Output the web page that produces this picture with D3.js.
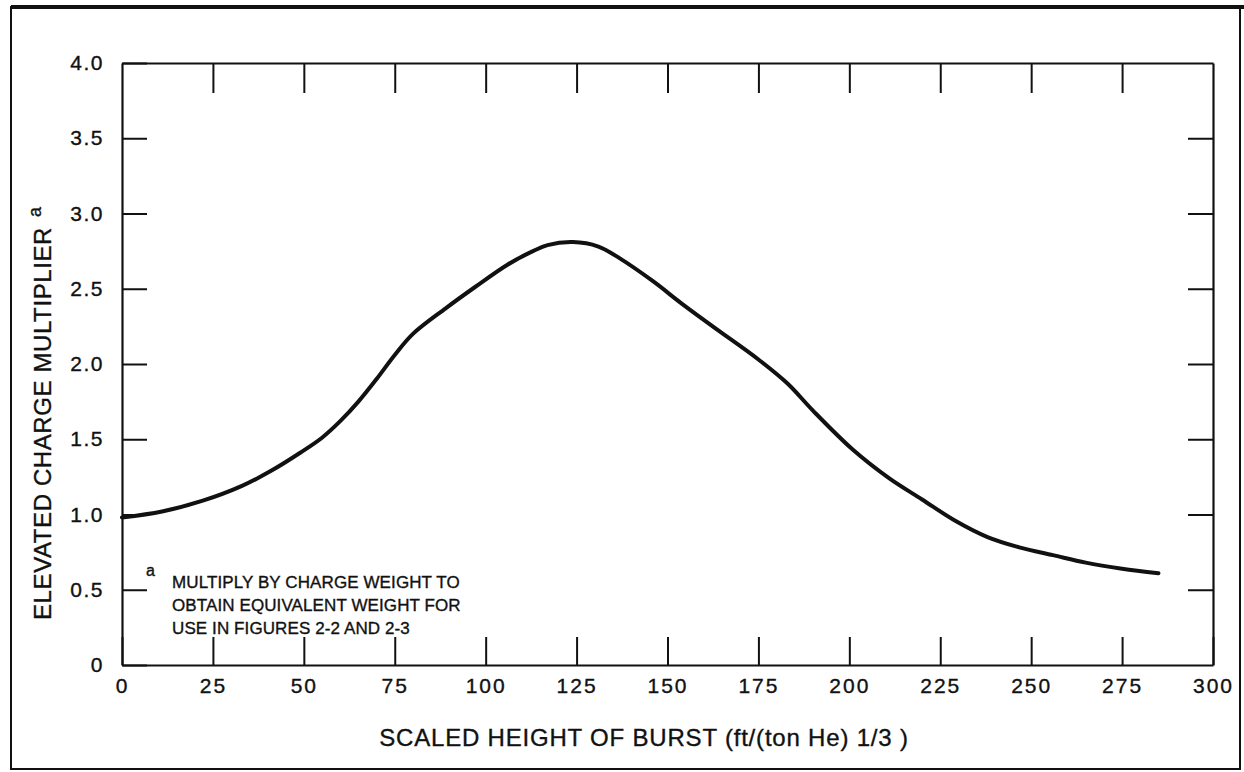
<!DOCTYPE html>
<html>
<head>
<meta charset="utf-8">
<script src="https://cdn.jsdelivr.net/npm/d3@7"></script>
<style>
  body { margin: 0; background: #fff; }
  svg { display: block; }
  text { font-family: "Liberation Sans", Arial, Helvetica, sans-serif; fill: #111; stroke: #111; stroke-width: 0.35; }
</style>
</head>
<body>
<svg id="chart"></svg>
<script>
const width = 1244;
const height = 772;

// curve
const burstHeight = [0, 11, 22, 33, 41, 49, 55, 60, 65, 70, 75, 80, 89, 97, 106, 113, 117, 124, 131, 137, 146, 154, 163, 175, 183, 190, 201, 211, 220, 229, 238, 247, 256, 265, 275, 285];
const multiplier  = [0.98, 1.02, 1.09, 1.19, 1.29, 1.41, 1.51, 1.62, 1.75, 1.90, 2.06, 2.20, 2.37, 2.51, 2.66, 2.75, 2.79, 2.81, 2.78, 2.70, 2.55, 2.40, 2.24, 2.03, 1.87, 1.69, 1.43, 1.24, 1.10, 0.96, 0.85, 0.78, 0.73, 0.68, 0.64, 0.61];

const xTicks = [0, 25, 50, 75, 100, 125, 150, 175, 200, 225, 250, 275, 300];
const yTicks = [0, 0.5, 1.0, 1.5, 2.0, 2.5, 3.0, 3.5, 4.0];
const xTitle = 'SCALED HEIGHT OF BURST (ft/(ton He) 1/3 )';
const yTitle = 'ELEVATED CHARGE MULTIPLIER';
const note = ['MULTIPLY BY CHARGE WEIGHT TO', 'OBTAIN EQUIVALENT WEIGHT FOR', 'USE IN FIGURES 2-2 AND 2-3'];

const plotLeft = 122, plotRight = 1213, plotTop = 63, plotBottom = 665;

const svg = d3.select('#chart')
    .attr('width', width)
    .attr('height', height);

const x = d3.scaleLinear().domain([0, 300]).range([plotLeft, plotRight]);
const y = d3.scaleLinear().domain([0, 4]).range([plotBottom, plotTop]);

// page frame
svg.append('rect')
    .attr('x', 11).attr('y', 7)
    .attr('width', 1229).attr('height', 762)
    .attr('fill', 'none').attr('stroke', '#111').attr('stroke-width', 2);
svg.append('line')
    .attr('x1', 11).attr('x2', 1244).attr('y1', 7).attr('y2', 7)
    .attr('stroke', '#111').attr('stroke-width', 4);

const xAxis = svg.append('g').attr('transform', `translate(0, ${plotBottom})`)
    .call(d3.axisBottom(x).tickValues(xTicks).tickSizeInner(-28).tickSizeOuter(0).tickPadding(13).tickFormat(d3.format('d')));
const xTop = svg.append('g').attr('transform', `translate(0, ${plotTop})`)
    .call(d3.axisTop(x).tickValues(xTicks.slice(1, -1)).tickSizeInner(-30).tickSizeOuter(0).tickFormat(''));
const yAxis = svg.append('g').attr('transform', `translate(${plotLeft}, 0)`)
    .call(d3.axisLeft(y).tickValues(yTicks).tickSizeInner(-25).tickSizeOuter(0).tickPadding(18)
        .tickFormat(d => d === 0 ? '0' : d.toFixed(1)));
const yRight = svg.append('g').attr('transform', `translate(${plotRight}, 0)`)
    .call(d3.axisRight(y).tickValues(yTicks.slice(1, -1)).tickSizeInner(-25).tickSizeOuter(0).tickFormat(''));

svg.selectAll('.domain').attr('stroke', '#111').attr('stroke-width', 2.2);
svg.selectAll('.tick line').attr('stroke', '#111').attr('stroke-width', 2);
xAxis.selectAll('.tick text').attr('font-size', 21).attr('letter-spacing', 2).attr('fill', '#111');
yAxis.selectAll('.tick text').attr('font-size', 21).attr('letter-spacing', 1.5).attr('fill', '#111');

// curve
const line = d3.line()
    .x((d, i) => x(burstHeight[i]))
    .y(d => y(d))
    .curve(d3.curveCatmullRom.alpha(0.5));

svg.append('path')
    .datum(multiplier)
    .attr('fill', 'none')
    .attr('stroke', '#111')
    .attr('stroke-width', 4)
    .attr('stroke-linecap', 'round')
    .attr('d', line);

// axis titles
svg.append('text')
    .attr('x', 644).attr('y', 746)
    .attr('text-anchor', 'middle')
    .attr('font-size', 24).attr('letter-spacing', 0.8)
    .text(xTitle);

const yt = svg.append('text')
    .attr('transform', 'translate(51, 620) rotate(-90)')
    .attr('font-size', 24).attr('letter-spacing', 0.6);
yt.append('tspan').text(yTitle);
yt.append('tspan').attr('dx', 10).attr('dy', -10).attr('font-size', 18).text('a');

// footnote
svg.append('text')
    .attr('x', 146).attr('y', 576)
    .attr('font-size', 16)
    .text('a');
svg.append('g').selectAll('text').data(note).enter().append('text')
    .attr('x', 172)
    .attr('y', (d, i) => 588 + i * 23)
    .attr('font-size', 17).attr('letter-spacing', 0.1)
    .text(d => d);
</script>
</body>
</html>
